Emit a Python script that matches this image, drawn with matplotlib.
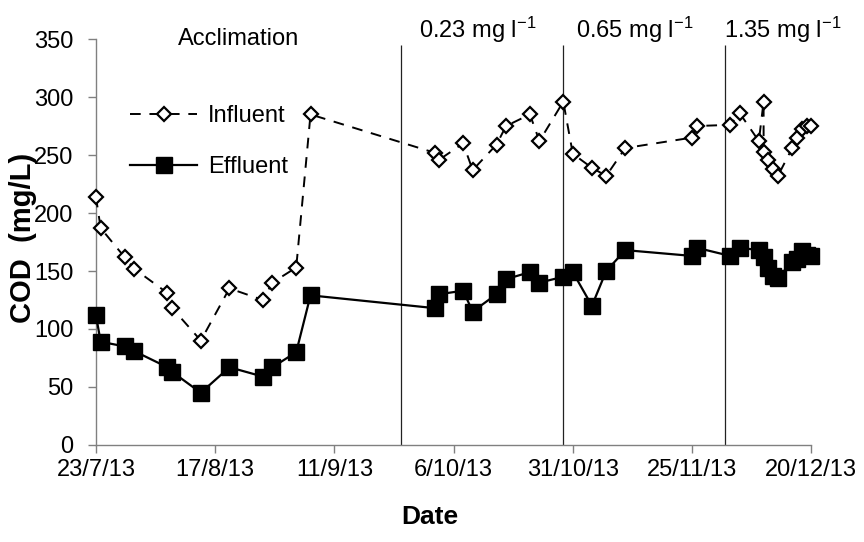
import matplotlib
matplotlib.use("Agg")
import matplotlib.pyplot as plt
import pandas as pd

plt.rcParams['font.family'] = ['Liberation Sans', 'DejaVu Sans']
plt.rcParams['mathtext.fontset'] = 'custom'
plt.rcParams['mathtext.rm'] = 'Liberation Sans'
plt.rcParams['mathtext.it'] = 'Liberation Sans'

# ---- data ----
influent_dates = ["2013-07-23", "2013-07-24", "2013-07-29", "2013-07-31", "2013-08-07", "2013-08-08",
                  "2013-08-14", "2013-08-20", "2013-08-27", "2013-08-29", "2013-09-03", "2013-09-06",
                  "2013-10-02", "2013-10-03", "2013-10-08", "2013-10-10", "2013-10-15", "2013-10-17",
                  "2013-10-22", "2013-10-24", "2013-10-29", "2013-10-31", "2013-11-04", "2013-11-07",
                  "2013-11-11", "2013-11-25", "2013-11-26", "2013-12-03", "2013-12-05", "2013-12-09",
                  "2013-12-10", "2013-12-10", "2013-12-11", "2013-12-12", "2013-12-13", "2013-12-16",
                  "2013-12-17", "2013-12-18", "2013-12-19", "2013-12-20"]
influent = [214, 187, 162, 152, 131, 118,
            90, 135, 125, 140, 153, 285,
            252, 246, 260, 237, 259, 275,
            285, 262, 296, 251, 239, 232,
            256, 265, 275, 276, 286, 262,
            296, 253, 246, 238, 232, 256,
            265, 272, 275, 275]

effluent_dates = ["2013-07-23", "2013-07-24", "2013-07-29", "2013-07-31", "2013-08-07", "2013-08-08",
                  "2013-08-14", "2013-08-20", "2013-08-27", "2013-08-29", "2013-09-03", "2013-09-06",
                  "2013-10-02", "2013-10-03", "2013-10-08", "2013-10-10", "2013-10-15", "2013-10-17",
                  "2013-10-22", "2013-10-24", "2013-10-29", "2013-10-31", "2013-11-04", "2013-11-07",
                  "2013-11-11", "2013-11-25", "2013-11-26", "2013-12-03", "2013-12-05", "2013-12-09",
                  "2013-12-10", "2013-12-11", "2013-12-12", "2013-12-13", "2013-12-16", "2013-12-17",
                  "2013-12-18", "2013-12-19", "2013-12-20"]
effluent = [112, 89, 85, 81, 67, 63,
            45, 67, 59, 67, 80, 129,
            118, 130, 133, 115, 130, 143,
            149, 140, 145, 149, 120, 150,
            168, 163, 170, 163, 170, 168,
            162, 153, 146, 144, 158, 160,
            167, 164, 163]

phase_dates = ["2013-09-25", "2013-10-29", "2013-12-02"]
phase_labels = ["0.23 mg l$^{-1}$", "0.65 mg l$^{-1}$", "1.35 mg l$^{-1}$"]
phase_label_dates = ["2013-10-11", "2013-11-13", "2013-12-14"]

tick_dates = ["2013-07-23", "2013-08-17", "2013-09-11", "2013-10-06", "2013-10-31", "2013-11-25", "2013-12-20"]
tick_labels = ["23/7/13", "17/8/13", "11/9/13", "6/10/13", "31/10/13", "25/11/13", "20/12/13"]

FS = 17

# ---- figure ----
fig = plt.figure(figsize=(8.64, 5.42), dpi=100)
ax = fig.add_axes([0.111, 0.179, 0.828, 0.749])

inf_d = pd.to_datetime(influent_dates)
eff_d = pd.to_datetime(effluent_dates)

ax.plot(inf_d, influent, linestyle=(0, (5.5, 4.5)), color='black', linewidth=1.4,
        marker='D', markersize=7, markerfacecolor='white', markeredgecolor='black',
        markeredgewidth=1.6, label='Influent', clip_on=False, zorder=3)
ax.plot(eff_d, effluent, linestyle='-', color='black', linewidth=1.6,
        marker='s', markersize=11.5, markerfacecolor='black', markeredgecolor='black',
        label='Effluent', clip_on=False, zorder=4)

for d in phase_dates:
    ax.vlines(pd.Timestamp(d), 0, 345, color='#222222', linewidth=0.9, zorder=1)

ax.text(pd.Timestamp("2013-08-22"), 350, "Acclimation", fontsize=FS,
        ha='center', va='center', clip_on=False)
for d, lab in zip(phase_label_dates, phase_labels):
    ax.text(pd.Timestamp(d), 358, lab, fontsize=FS, ha='center', va='center', clip_on=False)

ax.set_xlim(pd.Timestamp(tick_dates[0]), pd.Timestamp(tick_dates[-1]))
ax.set_ylim(0, 350)
ax.set_xticks(pd.to_datetime(tick_dates))
ax.set_xticklabels(tick_labels)
ax.set_yticks(range(0, 351, 50))

for s in ['top', 'right']:
    ax.spines[s].set_visible(False)
for s in ['left', 'bottom']:
    ax.spines[s].set_color('#808080')
    ax.spines[s].set_linewidth(1.0)
ax.tick_params(axis='both', colors='#808080', labelcolor='black', labelsize=FS,
               direction='out', length=6, width=1.0)
ax.tick_params(axis='y', pad=10)
ax.tick_params(axis='x', pad=4)

ax.set_xlabel("Date", fontsize=19, fontweight='bold')
ax.xaxis.label.set_va('center')
ax.xaxis.set_label_coords(0.467, -0.177)
ax.set_ylabel("COD  (mg/L)", fontsize=21, fontweight='bold')
ax.yaxis.label.set_va('center')
ax.yaxis.set_label_coords(-0.102, 0.51)

leg = ax.legend(loc='upper left', bbox_to_anchor=(0.018, 0.89), frameon=False, fontsize=FS,
                handlelength=2.85, handletextpad=0.45, labelspacing=1.25, borderpad=0.4)

fig.savefig("out.png", dpi=100)
